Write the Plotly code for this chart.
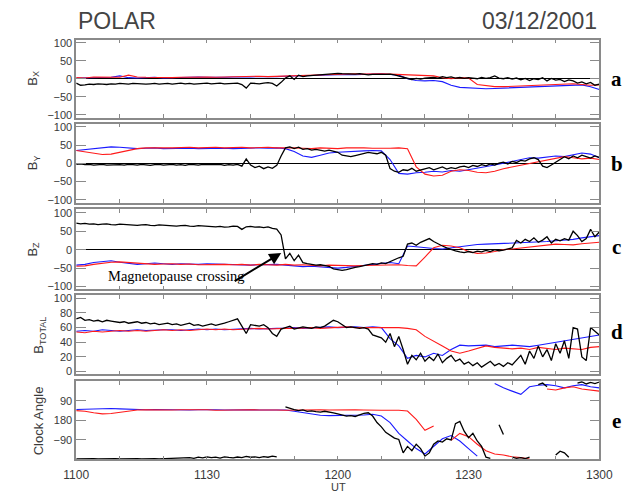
import plotly.graph_objects as go

# ---------------- data ----------------
# time in minutes after 11:00 UT
T_OBS = list(range(0, 121, 1))
T_MOD = list(range(0, 121, 2))
X_TICK_VALS = list(range(0, 121, 10))
X_TICK_TEXT = ["1100", "", "", "1130", "", "", "1200", "", "", "1230", "", "", "1300"]

# Bx
BX_OBS = [-12, -18, -17, -15, -16, -14, -15, -16, -14, -15, -13,
          -14, -15, -13, -14, -16, -15, -14, -13, -15, -14,
          -13, -15, -14, -12, -14, -13, -15, -14, -13, -12,
          -14, -13, -12, -14, -13, -11, -12, -16, -26, -12,
          -13, -14, -12, -11, -13, -20, -10, 2, 8, -2,
          10, 6, 8, 9, 10, 11, 12, 14, 13, 15,
          14, 13, 12, 13, 14, 12, 11, 12, 13, 12,
          12, 13, 11, 8, 4, 0, -2, 1, -1, 2,
          3, 4, 2, 6, 3, 5, 2, 4, 1, 3,
          2, 0, 4, 1, 3, 8, 2, 0, 3, -1,
          2, -3, 1, -5, 0, -2, 3, -6, 1, -4,
          -2, -8, -3, -6, -12, -9, -14, -10, -18, -15]
BX_MOD1 = [2, 3, 2, 4, 4, 8, 3, 2, 3, 4, 2,
           3, 4, 3, 5, 4, 3, 4, 5, 4, 5, 6, 5, 6,
           7, 8, 9, 10, 11, 12, 13, 12, 11, 12, 13, 14,
           12, 10, 0, -5, -6, -5, -8, -18, -24, -26,
           -27, -28, -27, -26, -25, -25, -24, -23, -22, -20, -18, -18, -17, -22, -30]
BX_MOD2 = [3, 2, 5, 4, 3, 4, 10, 5, 4, 3, 4,
           3, 4, 5, 6, 5, 4, 5, 6, 5, 6, 7, 6, 7,
           8, 9, 10, 11, 12, 13, 14, 15, 14, 13, 14, 14,
           13, 12, 11, 12, 11, 8, 3, 0, 3, 2,
           -16, -20, -22, -22, -21, -20, -18, -17, -15, -14, -15, -14, -16, -18, -17]

# By
BY_OBS = [-3, -2, -4, -3, -5, -4, -3, -5, -4, -3, -4,
          -5, -3, -4, -5, -3, -4, -6, -4, -3, -5,
          -4, -3, -5, -4, -6, -3, -4, -5, -3, -4,
          -5, -4, -3, -6, -4, -5, -3, -8, 12, -5,
          -12, -8, -15, -10, -14, -6, 20, 42, 45, 40,
          44, 38, 40, 36, 38, 35, 33, 36, 34, 30,
          22, 20, 18, 21, 24, 27, 30, 28, 26, 30,
          22, -15, -22, -25, -18, -20, -14, -22, -18, -15,
          -12, -18, -14, -10, -16, -12, -15, -10, -8, -12,
          -6, -9, -4, -7, -2, -5, 0, 3, -2, 5,
          2, 8, 6, 12, 15, 10, -8, -12, -5, 2,
          10, 18, 12, 20, 15, 22, 18, 14, 20, 16]
BY_MOD1 = [35, 38, 40, 42, 45, 44, 42, 40, 41, 42, 40,
           41, 42, 41, 40, 41, 42, 41, 40, 41, 41, 42, 41, 42,
           40, 32, 20, 16, 22, 28, 30, 32, 33, 34, 35, 34,
           10, -28, -30, -26, -25, -22, -24, -20, -22, -18,
           -15, -10, -5, 0, 5, 12, 15, 14, 16, 20, 18, 22, 28, 25, 15]
BY_MOD2 = [35, 32, 28, 24, 25, 30, 36, 40, 42, 43, 42,
           42, 43, 44, 42, 43, 44, 42, 43, 44, 42, 43, 44, 42,
           43, 42, 41, 40, 42, 41, 40, 42, 43, 42, 41, 40,
           41, 42, 40, -10, -30, -35, -33, -22, -18, -20,
           -25, -26, -22, -15, -10, -5, 0, 5, 10, 15, 18, 15, 12, 14, 10]

# Bz
BZ_OBS = [72, 70, 71, 69, 70, 68, 69, 70, 68, 67, 69,
          68, 67, 68, 66, 67, 68, 66, 65, 67, 66,
          65, 66, 64, 65, 66, 64, 63, 65, 64, 63,
          64, 62, 63, 61, 62, 64, 63, 55, 62, 63,
          61, 62, 60, 62, 58, 56, 40, -25, -10, -30,
          -15, -35, -38, -40, -42, -41, -43, -45, -52, -55,
          -56, -54, -50, -48, -46, -44, -42, -38, -40, -36,
          -38, -32, -28, -22, -18, 15, 18, 12, 20, 25,
          30, 22, 15, 10, 5, 0, -3, -6, -8, -5,
          -8, -4, -6, -2, -5, 0, -3, -1, 2, 5,
          25, 18, 28, 22, 32, 20, 26, 35, 18, 28,
          24, 30, 26, 50, 38, 22, 30, 55, 35, 48]
BZ_MOD1 = [-42, -40, -35, -32, -30, -34, -38, -40, -38, -36, -38,
           -40, -38, -39, -40, -38, -39, -40, -41, -40, -42, -41, -40, -40,
           -42, -44, -46, -45, -47, -48, -50, -48, -45, -42, -40, -38,
           -35, -38, 10, 8, 5, 3, 2, 5, 8, 12,
           14, 15, 16, 15, 17, 18, 20, 20, 22, 24, 25, 28, 32, 36, 38]
BZ_MOD2 = [-45, -44, -40, -36, -34, -33, -35, -36, -38, -40, -39,
           -38, -40, -39, -41, -40, -39, -40, -41, -40, -42, -40, -41, -42,
           -40, -42, -41, -43, -44, -42, -43, -45, -44, -43, -42, -42,
           -42, -41, -43, -44, -20, 5, 12, 10, 5, -5,
           -10, -9, -5, 0, 2, 5, 8, 10, 12, 15, 14, 13, 16, 18, 20]

# B total
BT_OBS = [72, 74, 70, 71, 69, 70, 68, 70, 69, 68, 67,
          68, 66, 67, 68, 66, 67, 65, 66, 64, 65,
          66, 64, 65, 63, 64, 66, 63, 64, 62, 64,
          65, 63, 64, 66, 68, 70, 72, 62, 52, 64,
          63, 62, 64, 60, 52, 48, 58, 60, 62, 58,
          60, 61, 60, 59, 61, 60, 62, 66, 70, 68,
          64, 60, 61, 60, 59, 60, 58, 50, 48, 46,
          40, 52, 34, 48, 30, 10, 22, 16, 25, 14,
          20, 15, 24, 12, 18, 22, 14, 17, 10, 13,
          8, 12, 6, 10, 14, 8, 11, 7, 12, 9,
          15, 22, 10, 28, 18, 35, 20, 30, 15, 38,
          25, 42, 18, 60, 58, 20, 15, 60, 55, 50]
BT_MOD1 = [55, 56, 55, 57, 56, 55, 56, 57, 56, 57, 57,
           57, 56, 57, 58, 57, 58, 57, 58, 58, 59, 58, 59, 59,
           59, 60, 59, 60, 60, 61, 60, 61, 61, 60, 61, 60,
           45, 35, 18, 22, 20, 25, 22, 30, 36, 35,
           35, 36, 34, 35, 36, 35, 34, 36, 38, 40, 42, 44, 46, 48, 50]
BT_MOD2 = [54, 53, 55, 54, 55, 56, 55, 56, 55, 56, 57,
           56, 57, 56, 57, 58, 57, 58, 57, 58, 58, 59, 58, 59,
           59, 59, 60, 60, 59, 60, 60, 61, 60, 60, 61, 60,
           60, 60, 59, 57, 48, 42, 35, 28, 25, 28,
           32, 35, 33, 32, 31, 32, 30, 33, 31, 30, 32, 31, 30, 33, 34]

# Clock angle (deg); None = wrap-around gap
CA_OBS = [358, 357, 358, 356, 357, 358, 357, 356, 358, 357, 358,
          357, 358, 356, 357, 358, 357, 356, 357, 358, 357,
          356, 357, 355, 356, 354, 352, 355, 350, 353, 348,
          352, 350, 354, 348, 351, 353, 349, 352, 346, 350,
          348, 352, 347, 350, 345, 348, None, 118, 125, 130,
          135, 132, 138, 136, 140, 142, 138, 140, 145, 150,
          155, 160, 158, 162, 155, 148, 145, 160, 190, 210,
          235, 250, 262, 268, 330, 300, 320, 290, 310, 345,
          330, 290, 275, 280, 265, 270, 195, 185, 230, 260,
          240, 275, 300, 350, 355, None, 200, 245, None, 350,
          355, 352, 356, 350, None, 15, 8, 25, None, 340,
          322, 330, 350, None, 8, 2, 12, 5, 10, 3]
CA_MOD1 = [130, 128, 126, 124, 125, 127, 129, 130, 131, 130, 131,
           130, 131, 132, 131, 130, 131, 132, 131, 130, 131, 132, 131, 130,
           132, 138, 145, 152, 156, 158, 158, 157, 156, 155, 152, 160,
           190, 240, 275, 310, 335, 300, 265, 250, 275, 310,
           345, None, 10, 30, 45, 60, 25, 18, 15, 20, 30, 20, 15, 25, 30]
CA_MOD2 = [135, 138, 145, 150, 148, 142, 136, 132, 131, 132, 131,
           132, 131, 130, 132, 131, 133, 132, 131, 130, 131, 132, 131, 132,
           133, 132, 131, 132, 131, 132, 131, 132, 131, 132, 131, 133,
           133, 133, 137, 175, 226, 206, None, 272, 240, 255,
           290, 320, 335, 340, 348, 352, 358, None, 35, 40, 30, 25, 35, 40, 45]

for arr in (BX_OBS, BY_OBS, BZ_OBS, BT_OBS, CA_OBS):
    assert len(arr) == len(T_OBS), len(arr)
for arr in (BX_MOD1, BX_MOD2, BY_MOD1, BY_MOD2, BZ_MOD1, BZ_MOD2,
            BT_MOD1, BT_MOD2, CA_MOD1, CA_MOD2):
    assert len(arr) == len(T_MOD), len(arr)

PANELS = [
    (BX_OBS, BX_MOD1, BX_MOD2),
    (BY_OBS, BY_MOD1, BY_MOD2),
    (BZ_OBS, BZ_MOD1, BZ_MOD2),
    (BT_OBS, BT_MOD1, BT_MOD2),
    (CA_OBS, CA_MOD1, CA_MOD2),
]
PANEL_LETTERS = ["a", "b", "c", "d", "e"]

# ---------------- layout geometry ----------------
W, H = 643, 495
X0, X1 = 66, 612
PANEL_PX = [(37, 116), (122, 202), (209, 290), (296, 376), (383, 462)]
LETTER_Y = [77, 163, 247, 333, 423]
FRAME = "#8a8a8a"
TICKFONT = dict(family="Liberation Sans, Arial, sans-serif", size=11, color="#3a3a3a")

fig = go.Figure()
COL_OBS, COL_M1, COL_M2 = "#000000", "#1a1aff", "#ff1a1a"

for i, (obs, m1, m2) in enumerate(PANELS):
    xa = "x" if i == 0 else f"x{i+1}"
    ya = "y" if i == 0 else f"y{i+1}"
    fig.add_trace(go.Scatter(x=T_MOD, y=m1, mode="lines", xaxis=xa, yaxis=ya,
                             line=dict(color=COL_M1, width=1.1), showlegend=False,
                             connectgaps=False))
    fig.add_trace(go.Scatter(x=T_MOD, y=m2, mode="lines", xaxis=xa, yaxis=ya,
                             line=dict(color=COL_M2, width=1.1), showlegend=False,
                             connectgaps=False))
    fig.add_trace(go.Scatter(x=T_OBS, y=obs, mode="lines", xaxis=xa, yaxis=ya,
                             line=dict(color=COL_OBS, width=1.3), showlegend=False,
                             connectgaps=False))

layout = dict(width=W, height=H, autosize=False,
              margin=dict(l=0, r=0, t=0, b=0),
              paper_bgcolor="white", plot_bgcolor="white",
              showlegend=False)

for i, (top, bot) in enumerate(PANEL_PX):
    xk = "xaxis" if i == 0 else f"xaxis{i+1}"
    yk = "yaxis" if i == 0 else f"yaxis{i+1}"
    ya = "y" if i == 0 else f"y{i+1}"
    xa = "x" if i == 0 else f"x{i+1}"
    last = (i == len(PANEL_PX) - 1)
    layout[xk] = dict(domain=[X0 / W, X1 / W], anchor=ya, range=[0, 120],
                      tickmode="array", tickvals=X_TICK_VALS, ticktext=X_TICK_TEXT,
                      ticks="inside", ticklen=4, tickwidth=1, tickcolor=FRAME,
                      showline=True, mirror="ticks", linecolor=FRAME, linewidth=1.6,
                      showgrid=False, zeroline=False, showticklabels=last,
                      ticklabelstandoff=3,
                      tickfont=dict(TICKFONT, size=12), fixedrange=True)
    ydom = [1 - bot / H, 1 - top / H]
    ycfg = dict(domain=ydom, anchor=xa, ticks="inside", ticklen=10, tickwidth=1,
                tickcolor=FRAME, showline=True, mirror="ticks", linecolor=FRAME,
                linewidth=1.6, showgrid=False, tickfont=TICKFONT, fixedrange=True,
                tickmode="array")
    if i < 3:
        ycfg.update(range=[-108, 109], tickvals=[-100, -50, 0, 50, 100],
                    zeroline=True, zerolinecolor="#000000", zerolinewidth=1)
    elif i == 3:
        ycfg.update(range=[-4, 104], tickvals=[0, 20, 40, 60, 80, 100], zeroline=False)
    else:
        ycfg.update(range=[360, 0], tickvals=[90, 180, 270],
                    ticktext=["90", "180", "\u221290"], zeroline=False)
    layout[yk] = ycfg

fig.update_layout(**layout)

# ---------------- text ----------------
ann = []
TITLE_FONT = dict(family="Liberation Sans, Arial, sans-serif", size=23, color="#444444")
ann.append(dict(text="POLAR", x=X0 / W, y=1 - 18 / H, xref="paper", yref="paper",
                xanchor="left", yanchor="middle", showarrow=False, font=TITLE_FONT))
ann.append(dict(text="03/12/2001", x=X1 / W, y=1 - 18 / H, xref="paper", yref="paper",
                xanchor="right", yanchor="middle", showarrow=False, font=TITLE_FONT))

YLAB_FONT = dict(family="Liberation Sans, Arial, sans-serif", size=13, color="#3a3a3a")
ylabels = ["B<sub>X</sub>", "B<sub>Y</sub>", "B<sub>Z</sub>", "B<sub>TOTAL</sub>", "Clock Angle"]
ylab_x = [21, 21, 21, 28, 26]
for i, (top, bot) in enumerate(PANEL_PX):
    ann.append(dict(text=ylabels[i], x=ylab_x[i] / W, y=1 - (top + bot) / 2 / H,
                    xref="paper", yref="paper", xanchor="center", yanchor="middle",
                    textangle=-90, showarrow=False, font=YLAB_FONT))
    ann.append(dict(text="<b>%s</b>" % PANEL_LETTERS[i], x=630 / W, y=1 - LETTER_Y[i] / H,
                    xref="paper", yref="paper", xanchor="center", yanchor="middle",
                    showarrow=False,
                    font=dict(family="Liberation Serif, Times New Roman, serif", size=21,
                              color="#000000")))

ann.append(dict(text="UT", x=340 / W, y=1 - 490 / H, xref="paper", yref="paper",
                xanchor="center", yanchor="middle", showarrow=False,
                font=dict(TICKFONT, size=11)))

ann.append(dict(text="Magnetopause crossing", x=97 / W, y=1 - 276 / H,
                xref="paper", yref="paper", xanchor="left", yanchor="middle",
                showarrow=False,
                font=dict(family="Liberation Serif, Times New Roman, serif", size=14.5,
                          color="#000000")))
ann.append(dict(text="", x=280 / W, y=1 - 253 / H, xref="paper", yref="paper",
                ax=-48, ay=29, showarrow=True, arrowhead=2, arrowsize=1.2,
                arrowwidth=2, arrowcolor="#000000"))

fig.update_layout(annotations=ann)
fig.write_html("out.html")
